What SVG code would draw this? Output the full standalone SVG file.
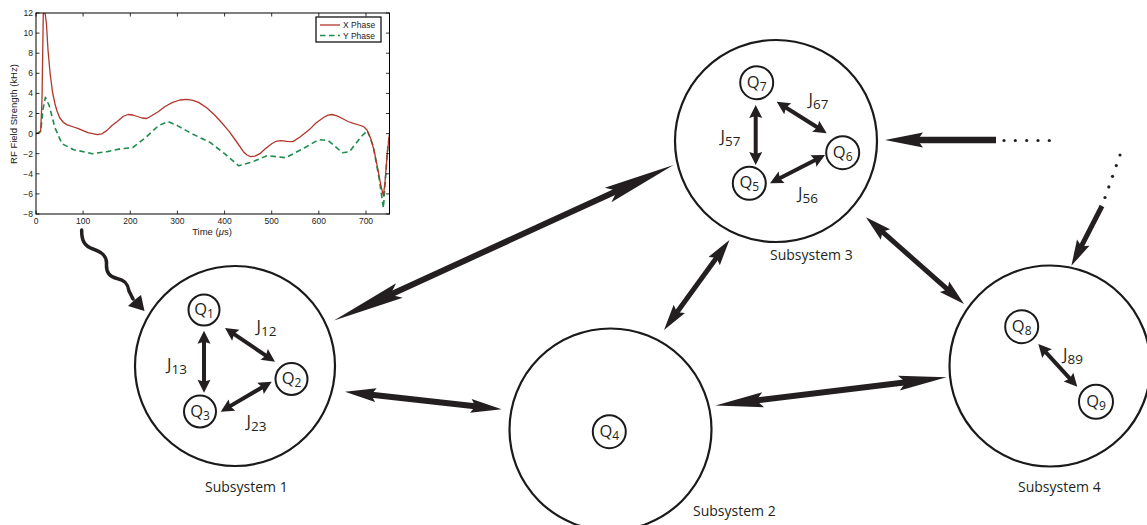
<svg xmlns="http://www.w3.org/2000/svg" width="1147" height="525" viewBox="0 0 1147 525">
<style>
.plotTxt{font-family:"Liberation Sans",Arial,sans-serif;font-size:8.5px;fill:#222}
.ax{fill:none;stroke:#000;stroke-width:1}
.tick{stroke:#000;stroke-width:0.8}
.big{fill:#fff;stroke:#1a1a1a;stroke-width:2.2}
.q{fill:#fff;stroke:#1a1a1a;stroke-width:2}
.lbl{font-family:"Open Sans","Noto Sans",sans-serif;font-size:16.5px;fill:#231f20}
.qs{font-size:12px}
.js{font-size:13.5px}
.sub{font-family:"Open Sans","Noto Sans",sans-serif;font-size:14px;fill:#231f20}
.arr{stroke:#231f20;fill:none}
.hd{fill:#231f20;stroke:none}
</style>
<defs>
<clipPath id="plotClip"><rect x="36" y="13" width="353.5" height="201"/></clipPath>
<marker id="mA" markerUnits="userSpaceOnUse" orient="auto-start-reverse" markerWidth="80" markerHeight="20" refX="0" refY="0" overflow="visible"><path class="hd" d="M-36,-8 L36,0 L-36,8 L-26,0 Z"/></marker>
<marker id="mC" markerUnits="userSpaceOnUse" orient="auto-start-reverse" markerWidth="60" markerHeight="20" refX="0" refY="0" overflow="visible"><path class="hd" d="M-24,-7.5 L24,0 L-24,7.5 L-17,0 Z"/></marker>
<marker id="mB" markerUnits="userSpaceOnUse" orient="auto-start-reverse" markerWidth="40" markerHeight="20" refX="0" refY="0" overflow="visible"><path class="hd" d="M-15.5,-7 L15.5,0 L-15.5,7 L-11,0 Z"/></marker>
<marker id="mH" markerUnits="userSpaceOnUse" orient="auto-start-reverse" markerWidth="40" markerHeight="20" refX="0" refY="0" overflow="visible"><path class="hd" d="M-19,-7.5 L19,0 L-19,7.5 L-13.5,0 Z"/></marker>
<marker id="mS" markerUnits="userSpaceOnUse" orient="auto-start-reverse" markerWidth="30" markerHeight="20" refX="0" refY="0" overflow="visible"><path class="hd" d="M-13,-7 L13,0 L-13,7 L-9,0 Z"/></marker>
<marker id="mJ" markerUnits="userSpaceOnUse" orient="auto-start-reverse" markerWidth="20" markerHeight="20" refX="0" refY="0" overflow="visible"><path class="hd" d="M-6.5,-6.5 L6.5,0 L-6.5,6.5 L-4.5,0 Z"/></marker>
</defs>
<rect width="1147" height="525" fill="#fff"/>

<g id="plot">
  <g clip-path="url(#plotClip)">
    <polyline fill="none" stroke="#1d8b4c" stroke-width="1.6" stroke-dasharray="5.5,3.5" stroke-linejoin="round" points="36,133.6 40.7,131.6 43.1,108.5 45.4,97.4 49.2,105.5 54.9,127.6 61.9,143.7 73.7,149.7 92.6,153.7 106.7,151.7 120.9,148.7 132.6,147.7 144.4,138.6 158.6,125.6 168,121.5 177.4,125.6 191.6,133.6 210.4,142.6 224.6,153.7 238.7,165.8 252.8,161.7 267,155.7 285.8,157.7 304.7,147.7 318.8,139.6 328.3,140.6 342.4,152.7 349.5,151.7 361.3,136.6 367.4,130.6 373.1,145.7 379.2,178.8 383.4,208 387.2,153.7 389.5,133.6"/>
    <polyline fill="none" stroke="#b0362a" stroke-width="1.3" stroke-linejoin="round" points="36,133.6 39,132.8 40.7,130.6 42,100 43.3,13 45,13 46.4,23 48,50 50.1,73.3 52.5,92 54.9,103.5 57,111 59.6,117.5 63,122 66.6,124.6 72,126.5 78.4,128.6 87.9,132.6 97.3,134.6 102,133.8 106.7,130.6 112,125.5 118.5,120.5 123,116.5 127.9,114.5 133,115 137.4,116.5 142,118 146.8,118.5 152,115.5 158.6,111.5 165,106.5 172.7,102.4 180,100 186.8,99.4 193,100.3 198.6,102.4 207,108 215.1,115.5 222,123 229.3,131.6 236,141 243.4,151.7 247,155 250.5,156.7 255,156.2 259.9,153.7 265,149 271.7,143.7 276,141.3 281.1,140.6 287,141.3 292.9,141.6 300,137 309.4,129.6 316,123 323.6,117.5 328,115.2 332,114.5 337,115.8 342.4,118.5 348,121.5 354.2,123.6 359,125 363.6,126.6 367,130 370.7,138.6 374,150 377.8,168.8 381,186 383.4,195.9 385.2,180 387.2,153.7 389.5,133.6"/>
  </g>
  <rect class="ax" x="36" y="13" width="353.5" height="201"/>
  <g class="tick">
    <path d="M36,13h3.5M36,33.1h3.5M36,53.2h3.5M36,73.3h3.5M36,93.4h3.5M36,113.5h3.5M36,133.6h3.5M36,153.7h3.5M36,173.8h3.5M36,193.9h3.5M36,214h3.5"/>
    <path d="M389.5,13h-3.5M389.5,33.1h-3.5M389.5,53.2h-3.5M389.5,73.3h-3.5M389.5,93.4h-3.5M389.5,113.5h-3.5M389.5,133.6h-3.5M389.5,153.7h-3.5M389.5,173.8h-3.5M389.5,193.9h-3.5M389.5,214h-3.5"/>
    <path d="M36,214v-3.5M83.1,214v-3.5M130.3,214v-3.5M177.4,214v-3.5M224.6,214v-3.5M271.7,214v-3.5M318.8,214v-3.5M366,214v-3.5"/>
    <path d="M36,13v3.5M83.1,13v3.5M130.3,13v3.5M177.4,13v3.5M224.6,13v3.5M271.7,13v3.5M318.8,13v3.5M366,13v3.5"/>
  </g>
  <g class="plotTxt" text-anchor="end">
    <text x="33" y="16">12</text>
    <text x="33" y="36.1">10</text>
    <text x="33" y="56.2">8</text>
    <text x="33" y="76.3">6</text>
    <text x="33" y="96.4">4</text>
    <text x="33" y="116.5">2</text>
    <text x="33" y="136.6">0</text>
    <text x="33" y="156.7">−2</text>
    <text x="33" y="176.8">−4</text>
    <text x="33" y="196.9">−6</text>
    <text x="33" y="217">−8</text>
  </g>
  <g class="plotTxt" text-anchor="middle">
    <text x="36" y="224">0</text>
    <text x="83.1" y="224">100</text>
    <text x="130.3" y="224">200</text>
    <text x="177.4" y="224">300</text>
    <text x="224.6" y="224">400</text>
    <text x="271.7" y="224">500</text>
    <text x="318.8" y="224">600</text>
    <text x="366" y="224">700</text>
    <text x="212" y="235" font-size="9.5">Time (<tspan font-style="italic">μ</tspan>s)</text>
    <text x="0" y="0" font-size="9.5" transform="translate(16.5,114) rotate(-90)">RF Field Strength (kHz)</text>
  </g>
  <g id="legend">
    <rect x="316" y="17" width="65" height="25" fill="#fff" stroke="#000" stroke-width="1.2"/>
    <line x1="320" y1="25" x2="340" y2="25" stroke="#b0362a" stroke-width="1.3"/>
    <line x1="320" y1="35.5" x2="340" y2="35.5" stroke="#1d8b4c" stroke-width="1.6" stroke-dasharray="5.5,3.5"/>
    <text class="plotTxt" x="343" y="28" font-size="8">X Phase</text>
    <text class="plotTxt" x="343" y="38.5" font-size="8">Y Phase</text>
  </g>
</g>

<g id="connectors">
  <path class="arr" stroke-width="3.5" stroke-linecap="round" d="M81.7,230 C81.5,240 84,246 93,249 C102,252 107,256 106.5,264 C106,272 109,277 117,278.5 C125,280 128,284 129,291 L133,299"/>
  <path class="hd" d="M144.5,311 L128,306 L134.5,300 L141,295 Z"/>
  <line class="arr" stroke-width="6" x1="366.7" y1="305.5" x2="640.8" y2="180" marker-start="url(#mA)" marker-end="url(#mA)"/>
  <line class="arr" stroke-width="6" x1="360.4" y1="393.4" x2="486.3" y2="407.6" marker-start="url(#mB)" marker-end="url(#mB)"/>
  <line class="arr" stroke-width="6" x1="739.3" y1="402.6" x2="922.7" y2="380.2" marker-start="url(#mC)" marker-end="url(#mC)"/>
  <line class="arr" stroke-width="5" x1="671.7" y1="319.5" x2="721.8" y2="250.5" marker-start="url(#mS)" marker-end="url(#mS)"/>
  <line class="arr" stroke-width="5" x1="875.7" y1="225.9" x2="954.3" y2="295.4" marker-start="url(#mS)" marker-end="url(#mS)"/>
  <line class="arr" stroke-width="6.5" x1="996" y1="140" x2="904" y2="140" marker-end="url(#mH)"/>
  <line class="arr" stroke-width="5" x1="1102" y1="206" x2="1077.3" y2="254.2" marker-end="url(#mS)"/>
  <g fill="#231f20">
    <circle cx="1004" cy="140.5" r="1.6"/>
    <circle cx="1015.3" cy="140.5" r="1.6"/>
    <circle cx="1026.7" cy="140.5" r="1.6"/>
    <circle cx="1038" cy="140.5" r="1.6"/>
    <circle cx="1049.3" cy="140.5" r="1.6"/>
    <circle cx="1120" cy="155" r="1.6"/>
    <circle cx="1116.3" cy="165.6" r="1.6"/>
    <circle cx="1112.5" cy="176.3" r="1.6"/>
    <circle cx="1108.8" cy="186.9" r="1.6"/>
    <circle cx="1105" cy="197.5" r="1.6"/>
  </g>
</g>

<g id="subsystem1">
  <circle class="big" cx="235" cy="366" r="100"/>
  <text class="sub" x="205" y="492">Subsystem 1</text>
  <g id="q1"><circle class="q" cx="204" cy="310" r="15.5"/><text class="lbl" x="204" y="315" text-anchor="middle">Q<tspan class="qs" dy="3">1</tspan></text></g>
  <g id="q2"><circle class="q" cx="291.5" cy="379" r="16"/><text class="lbl" x="291.5" y="384" text-anchor="middle">Q<tspan class="qs" dy="3">2</tspan></text></g>
  <g id="q3"><circle class="q" cx="200" cy="411.5" r="16"/><text class="lbl" x="200" y="416.5" text-anchor="middle">Q<tspan class="qs" dy="3">3</tspan></text></g>
  <g class="arr" stroke-width="4">
    <line x1="204" y1="337.2" x2="204" y2="386.2" marker-start="url(#mJ)" marker-end="url(#mJ)"/>
    <line x1="230.4" y1="331.6" x2="269.6" y2="358.1" marker-start="url(#mJ)" marker-end="url(#mJ)"/>
    <line x1="226.3" y1="408.4" x2="266.1" y2="385" marker-start="url(#mJ)" marker-end="url(#mJ)"/>
  </g>
  <text class="lbl" x="256.5" y="331.5">J<tspan class="js" dy="4">12</tspan></text>
  <text class="lbl" x="167" y="370">J<tspan class="js" dy="4">13</tspan></text>
  <text class="lbl" x="246.5" y="426.5">J<tspan class="js" dy="4">23</tspan></text>
</g>

<g id="subsystem2">
  <circle class="big" cx="610.5" cy="429.5" r="101"/>
  <text class="sub" x="693" y="516">Subsystem 2</text>
  <g id="q4"><circle class="q" cx="609.3" cy="431.7" r="16.5"/><text class="lbl" x="609.3" y="436.7" text-anchor="middle">Q<tspan class="qs" dy="3">4</tspan></text></g>
</g>

<g id="subsystem3">
  <circle class="big" cx="776" cy="141" r="101"/>
  <text class="sub" x="770" y="260">Subsystem 3</text>
  <g id="q7"><circle class="q" cx="756.7" cy="82.7" r="16.5"/><text class="lbl" x="756.7" y="87.7" text-anchor="middle">Q<tspan class="qs" dy="3">7</tspan></text></g>
  <g id="q6"><circle class="q" cx="842.7" cy="152.7" r="16.5"/><text class="lbl" x="842.7" y="157.7" text-anchor="middle">Q<tspan class="qs" dy="3">6</tspan></text></g>
  <g id="q5"><circle class="q" cx="749.3" cy="183.3" r="16.5"/><text class="lbl" x="749.3" y="188.3" text-anchor="middle">Q<tspan class="qs" dy="3">5</tspan></text></g>
  <g class="arr" stroke-width="4">
    <line x1="755.7" y1="111.5" x2="755.7" y2="158.5" marker-start="url(#mJ)" marker-end="url(#mJ)"/>
    <line x1="782.2" y1="105.2" x2="821.2" y2="129.8" marker-start="url(#mJ)" marker-end="url(#mJ)"/>
    <line x1="775.8" y1="180.3" x2="819.2" y2="158" marker-start="url(#mJ)" marker-end="url(#mJ)"/>
  </g>
  <text class="lbl" x="808.5" y="105">J<tspan class="js" dy="4">67</tspan></text>
  <text class="lbl" x="720.5" y="141.5">J<tspan class="js" dy="4">57</tspan></text>
  <text class="lbl" x="798" y="198.5">J<tspan class="js" dy="4">56</tspan></text>
</g>

<g id="subsystem4">
  <circle class="big" cx="1050" cy="366" r="100.5"/>
  <text class="sub" x="1018" y="491.5">Subsystem 4</text>
  <g id="q8"><circle class="q" cx="1021.7" cy="326.7" r="16.5"/><text class="lbl" x="1021.7" y="331.7" text-anchor="middle">Q<tspan class="qs" dy="3">8</tspan></text></g>
  <g id="q9"><circle class="q" cx="1096" cy="401.7" r="17"/><text class="lbl" x="1096" y="406.7" text-anchor="middle">Q<tspan class="qs" dy="3">9</tspan></text></g>
  <line class="arr" stroke-width="4" x1="1042.7" y1="348.8" x2="1072.9" y2="381.9" marker-start="url(#mJ)" marker-end="url(#mJ)"/>
  <text class="lbl" x="1063" y="360">J<tspan class="js" dy="4">89</tspan></text>
</g>
</svg>
